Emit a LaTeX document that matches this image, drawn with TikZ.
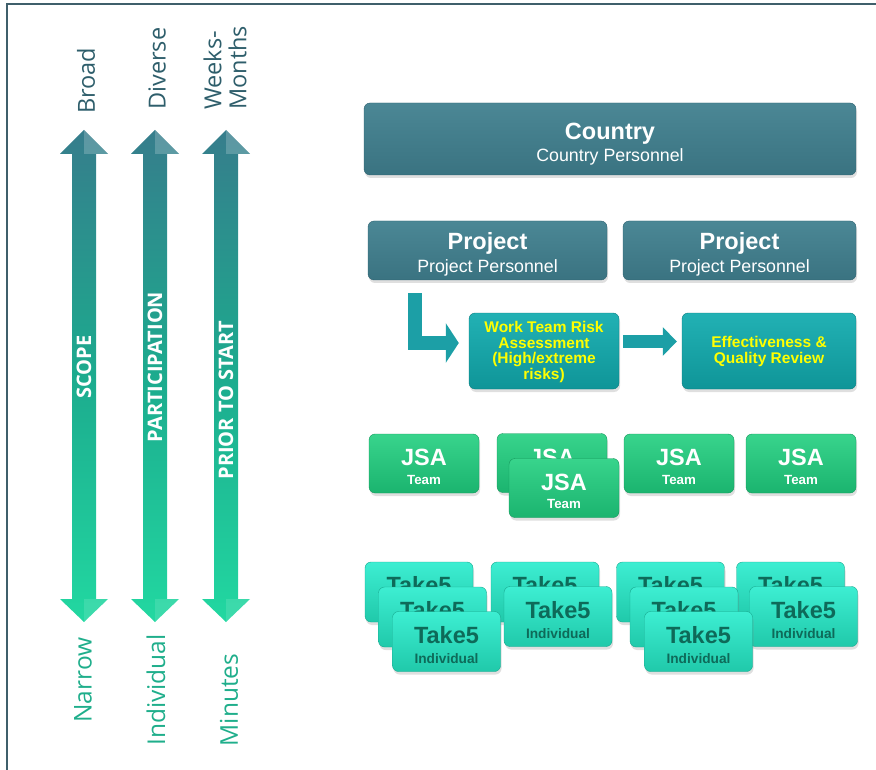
\documentclass[tikz,border=0pt]{standalone}
\usepackage{fontspec}
\setmainfont{Liberation Sans}
\newfontfamily\segfont{Open Sans}
\usetikzlibrary{arrows.meta,shadows}

\definecolor{framecol}{HTML}{3F5F6B}
\definecolor{darklbl}{HTML}{2E5E6B}
\definecolor{greenlbl}{HTML}{1FAE8B}
\definecolor{shafttop}{HTML}{367D8C}
\definecolor{shaftmid}{HTML}{1CAB8E}
\definecolor{shaftbot}{HTML}{22D8A1}
\definecolor{perstop}{HTML}{4B8795}
\definecolor{persbot}{HTML}{3A7381}
\definecolor{persedge}{HTML}{2E6170}
\definecolor{risktop}{HTML}{22B1B4}
\definecolor{riskbot}{HTML}{0F9598}
\definecolor{riskedge}{HTML}{0B7D80}
\definecolor{risktxt}{HTML}{FFFF00}
\definecolor{jsatop}{HTML}{38D48C}
\definecolor{jsabot}{HTML}{1BB46F}
\definecolor{jsaedge}{HTML}{15985C}
\definecolor{taketop}{HTML}{3DEED2}
\definecolor{takebot}{HTML}{20C9AA}
\definecolor{takeedge}{HTML}{16A88E}
\definecolor{taketxt}{HTML}{0E6A59}
\definecolor{linkcol}{HTML}{1C9FA6}

\newcommand\boxtitle{\bfseries\fontsize{23.5}{24}\selectfont}

\tikzset{
  tile/.style={rounded corners=6pt, inner sep=0pt, align=center, text depth=0pt,
    drop shadow={opacity=0.25, shadow xshift=1pt, shadow yshift=-3pt}},
  persbox/.style={tile, draw=persedge, top color=perstop, bottom color=persbot, text=white,
    minimum height=59pt, text height=44pt, font=\fontsize{17.8}{22.5}\selectfont},
  riskbox/.style={tile, draw=riskedge, top color=risktop, bottom color=riskbot, text=risktxt,
    minimum height=76pt, font=\bfseries\fontsize{15.5}{15.7}\selectfont},
  jsabox/.style={tile, draw=jsaedge, top color=jsatop, bottom color=jsabot, text=white,
    minimum width=110pt, minimum height=59pt, text height=41.5pt, font=\bfseries\fontsize{13.3}{18.3}\selectfont},
  takebox/.style={tile, draw=takeedge, top color=taketop, bottom color=takebot, text=taketxt,
    minimum width=108pt, minimum height=60pt, text height=43.5pt, font=\bfseries\fontsize{13.7}{20}\selectfont},
  fatarrow/.style={draw=linkcol, line join=miter},
  axislbl/.style={rotate=90, text=white, inner sep=0pt, font=\segfont\bfseries\fontsize{20}{20}\selectfont},
  toplbl/.style={rotate=90, anchor=west, inner sep=0pt, text=darklbl, font=\segfont\fontsize{23.5}{25}\selectfont},
  botlbl/.style={rotate=90, inner sep=0pt, text=greenlbl, font=\segfont\fontsize{24.5}{25}\selectfont}
}

\begin{document}
\begin{tikzpicture}[x=1pt, y=-1pt]
  \useasboundingbox (0,0) rectangle (876,770);
  \draw[framecol, line width=1.2pt] (7,770) -- (7,4) -- (876,4);

  \foreach \x/\nm/\lbl/\ly in {84/scope/SCOPE/367, 155/part/PARTICIPATION/367, 226/prior/PRIOR TO START/400} {
    \shade[top color=shafttop, bottom color=shaftbot, middle color=shaftmid] (\x,130) -- (\x+24,154) -- (\x+12,154) -- (\x+12,599) -- (\x+24,599) -- (\x,622) -- (\x-24,599) -- (\x-12,599) -- (\x-12,154) -- (\x-24,154) -- cycle;
    \fill[white, opacity=0.2] (\x,130) -- (\x+24,154) -- (\x,154) -- cycle;
    \fill[white, opacity=0.12] (\x,599) -- (\x+24,599) -- (\x,622) -- cycle;
    \node[axislbl] (\nm) at (\x,\ly) {\lbl};
  }

  \node[toplbl] (broad) at (86,114) {Broad};
  \node[toplbl] (diverse) at (157,110) {Diverse};
  \node[toplbl, align=left] (weeks) at (225,110) {Weeks-\\Months};
  \node[botlbl] (narrow) at (83,680) {Narrow};
  \node[botlbl] (indiv) at (156,690) {Individual};
  \node[botlbl] (minutes) at (229,700) {Minutes};

  \node[persbox, minimum width=492pt, minimum height=72pt, text height=46pt] (country) at (610,139) {{\boxtitle Country}\\Country Personnel};
  \node[persbox, minimum width=239pt] (proj1) at (487.5,250.5) {{\boxtitle Project}\\Project Personnel};
  \node[persbox, minimum width=233pt] (proj2) at (739.5,250.5) {{\boxtitle Project}\\Project Personnel};

  \node[riskbox, minimum width=150pt, text height=57pt] (work) at (544,351) {Work Team Risk\\Assessment\\(High/extreme\\risks)};
  \node[riskbox, minimum width=174pt, text height=25pt] (effect) at (769,351) {Effectiveness \&\\Quality Review};

  \coordinate (lstart) at ([xshift=-73pt, yshift=-13pt]proj1.south);
  \draw[fatarrow, line width=14pt, shorten >=10pt, -{Triangle[width=39pt, length=13pt]}] (lstart) |- ([yshift=8pt]work.west);
  \draw[fatarrow, line width=13pt, shorten <=4pt, shorten >=5pt, -{Triangle[width=28pt, length=14pt]}] ([yshift=9.5pt]work.east) -- ([yshift=9.5pt]effect.west);

  \foreach \nm/\px/\py in {jsa1/424/463.5, jsa2/552/463, jsa2b/564/488, jsa3/679/463.5, jsa4/801/463.5}
    \node[jsabox] (\nm) at (\px,\py) {{\boxtitle JSA}\\Team};

  \foreach \nm/\px/\py in {t1a/419/592, t2a/545/592, t3a/670.5/592, t4a/790.5/592, t1b/432.5/617, t2b/558/616.5, t3b/684/617, t4b/803.5/616.5, t1c/446.5/641.5, t3c/698.5/641.5}
    \node[takebox] (\nm) at (\px,\py) {{\boxtitle Take5}\\Individual};
\end{tikzpicture}
\end{document}
